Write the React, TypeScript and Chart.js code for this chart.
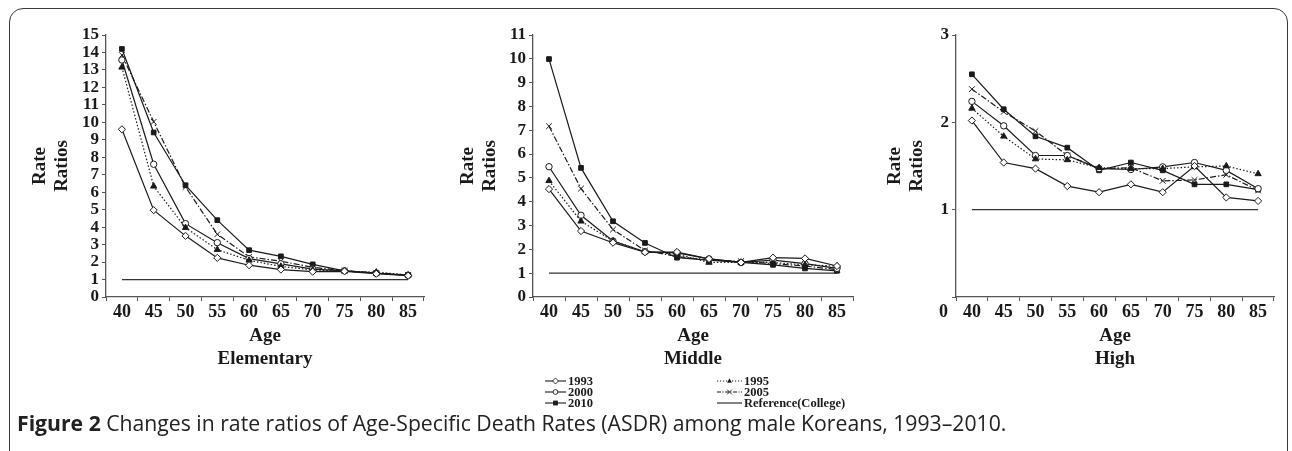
import React, { useEffect, useRef } from 'react';
import { Chart, registerables } from 'chart.js';

Chart.register(...registerables);

// ---------- data ----------
const AGES = ['40', '45', '50', '55', '60', '65', '70', '75', '80', '85'];
const SERIES_LABELS = ['1993', '1995', '2000', '2005', '2010'];
const REF_LABEL = 'Reference(College)';
const REF_VALUES = [1, 1, 1, 1, 1, 1, 1, 1, 1, 1];

const ELEM_1993 = [9.6, 4.97, 3.5, 2.24, 1.82, 1.57, 1.45, 1.47, 1.33, 1.22];
const ELEM_1995 = [13.15, 6.34, 3.97, 2.71, 2.1, 1.75, 1.55, 1.48, 1.42, 1.26];
const ELEM_2000 = [13.57, 7.6, 4.2, 3.11, 2.2, 1.9, 1.6, 1.5, 1.36, 1.24];
const ELEM_2005 = [13.85, 10.03, 6.3, 3.59, 2.3, 2.05, 1.7, 1.5, 1.38, 1.26];
const ELEM_2010 = [14.2, 9.42, 6.4, 4.4, 2.68, 2.33, 1.87, 1.5, 1.36, 1.25];

const MID_1993 = [4.53, 2.77, 2.28, 1.88, 1.89, 1.6, 1.45, 1.65, 1.62, 1.3];
const MID_1995 = [4.88, 3.18, 2.35, 1.9, 1.8, 1.45, 1.45, 1.45, 1.35, 1.3];
const MID_2000 = [5.47, 3.43, 2.35, 1.9, 1.85, 1.6, 1.45, 1.55, 1.4, 1.2];
const MID_2005 = [7.17, 4.55, 2.83, 1.95, 1.7, 1.55, 1.5, 1.4, 1.3, 1.15];
const MID_2010 = [9.99, 5.42, 3.18, 2.27, 1.65, 1.55, 1.45, 1.35, 1.2, 1.1];

const HIGH_1993 = [2.02, 1.54, 1.47, 1.27, 1.2, 1.29, 1.2, 1.5, 1.14, 1.1];
const HIGH_1995 = [2.16, 1.84, 1.58, 1.57, 1.48, 1.47, 1.47, 1.49, 1.5, 1.41];
const HIGH_2000 = [2.24, 1.96, 1.62, 1.62, 1.47, 1.46, 1.49, 1.54, 1.45, 1.24];
const HIGH_2005 = [2.38, 2.12, 1.9, 1.62, 1.47, 1.48, 1.33, 1.34, 1.4, 1.22];
const HIGH_2010 = [2.55, 2.15, 1.84, 1.71, 1.45, 1.54, 1.45, 1.29, 1.29, 1.23];

const Y_MAX = [15, 11, 3];
const PANEL_TITLES = ['Elementary', 'Middle', 'High'];
const Y_TITLE = ['Rate', 'Ratios'];
const X_TITLE = 'Age';
const CAPTION_BOLD = 'Figure 2';
const CAPTION_TEXT = ' Changes in rate ratios of Age-Specific Death Rates (ASDR) among male Koreans, 1993\u20132010.';

// ---------- styles ----------
const SERIF = '"Liberation Serif", "Times New Roman", serif';
const INK = '#1a1a1a';
const AXIS = '#555';

const STYLES = [
  { pointStyle: 'rectRot', fill: '#ffffff', dash: [] as number[], radius: 3.6 },
  { pointStyle: 'triangle', fill: INK, dash: [1.5, 2], radius: 3.6 },
  { pointStyle: 'circle', fill: '#ffffff', dash: [] as number[], radius: 3.2 },
  { pointStyle: 'crossRot', fill: INK, dash: [6, 2, 1.5, 2], radius: 4 },
  { pointStyle: 'rect', fill: INK, dash: [] as number[], radius: 3.3 },
];

const PANEL_DATA = [
  [ELEM_1993, ELEM_1995, ELEM_2000, ELEM_2005, ELEM_2010],
  [MID_1993, MID_1995, MID_2000, MID_2005, MID_2010],
  [HIGH_1993, HIGH_1995, HIGH_2000, HIGH_2005, HIGH_2010],
];

// layout of the three canvases (page px)
const CANVAS_TOP = 15;
const CANVAS_H = 370;
const PANEL_BOX = [
  { left: 29, width: 403, yAxisW: 77 },
  { left: 457, width: 404, yAxisW: 76 },
  { left: 884, width: 398, yAxisW: 72 },
];
const X_TICK_SIZE = 18;
const Y_TICK_SIZE = 17;

const zeroLabelPlugin = {
  id: 'zeroLabel',
  afterDraw(chart: any, _args: any, opts: any) {
    if (!opts || !opts.show) return;
    const ys = chart.scales.y;
    const xs = chart.scales.x;
    const ctx = chart.ctx;
    ctx.save();
    ctx.font = `bold ${X_TICK_SIZE}px ${SERIF}`;
    ctx.fillStyle = INK;
    ctx.textAlign = 'right';
    ctx.textBaseline = 'middle';
    ctx.fillText('0', ys.right - 4 - 4, xs.top + 4 + 1 + X_TICK_SIZE * 0.6);
    ctx.restore();
  },
};

function Panel({ idx }: { idx: number }) {
  const ref = useRef<HTMLCanvasElement>(null);
  useEffect(() => {
    const box = PANEL_BOX[idx];
    const datasets: any[] = PANEL_DATA[idx].map((vals, i) => ({
      label: SERIES_LABELS[i],
      data: vals,
      borderColor: INK,
      borderWidth: 1.2,
      borderDash: STYLES[i].dash,
      pointStyle: STYLES[i].pointStyle,
      pointRadius: STYLES[i].radius,
      pointBackgroundColor: STYLES[i].fill,
      pointBorderColor: INK,
      pointBorderWidth: 1,
      tension: 0,
      fill: false,
    }));
    datasets.push({
      label: REF_LABEL,
      data: REF_VALUES,
      borderColor: '#333',
      borderWidth: 1.2,
      pointRadius: 0,
      tension: 0,
      fill: false,
    });
    const chart = new Chart(ref.current as HTMLCanvasElement, {
      type: 'line',
      data: { labels: AGES, datasets },
      plugins: [zeroLabelPlugin as any],
      options: {
        animation: false,
        responsive: false,
        maintainAspectRatio: false,
        layout: { padding: { top: 20, right: 8, left: 0, bottom: 0 } },
        plugins: {
          legend: { display: false },
          tooltip: { enabled: false },
          zeroLabel: { show: idx === 2 },
        } as any,
        scales: {
          x: {
            type: 'category',
            offset: true,
            afterFit: (s: any) => { s.height = 88; },
            grid: { display: true, drawOnChartArea: false, drawTicks: true, tickLength: 4, offset: true, color: AXIS, lineWidth: 1 },
            border: { display: true, color: AXIS, width: 1.3 },
            ticks: { color: INK, font: { family: SERIF, size: X_TICK_SIZE, weight: 'bold', lineHeight: 1.2 }, padding: 1, maxRotation: 0, autoSkip: false },
            title: {
              display: true,
              text: [X_TITLE, PANEL_TITLES[idx]],
              color: INK,
              font: { family: SERIF, size: 19, weight: 'bold', lineHeight: 1.2 },
              padding: { top: 4, bottom: 15 },
            },
          },
          y: {
            min: 0,
            max: Y_MAX[idx],
            afterFit: (s: any) => { s.width = box.yAxisW; },
            grid: { display: true, drawOnChartArea: false, drawTicks: true, tickLength: 4, color: AXIS, lineWidth: 1 },
            border: { display: true, color: AXIS, width: 1.3 },
            ticks: {
              stepSize: 1,
              autoSkip: false,
              color: INK,
              font: { family: SERIF, size: Y_TICK_SIZE, weight: 'bold', lineHeight: 1 },
              padding: 3,
              callback: (v: any) => (idx === 2 && Number(v) === 0 ? '' : String(v)),
            },
            title: {
              display: true,
              text: Y_TITLE,
              color: INK,
              font: { family: SERIF, size: 19, weight: 'bold', lineHeight: 1.16 },
              padding: { top: 0, bottom: 0 },
            },
          },
        },
      } as any,
    });
    return () => chart.destroy();
  }, [idx]);
  const box = PANEL_BOX[idx];
  return (
    <canvas
      ref={ref}
      width={box.width}
      height={CANVAS_H}
      style={{ position: 'absolute', left: box.left, top: CANVAS_TOP, width: box.width, height: CANVAS_H }}
    />
  );
}

function Marker({ kind, cx, cy }: { kind: number; cx: number; cy: number }) {
  const s = 2.4;
  if (kind === 0) return <polygon points={`${cx},${cy - s - 0.6} ${cx + s + 0.6},${cy} ${cx},${cy + s + 0.6} ${cx - s - 0.6},${cy}`} fill="#fff" stroke={INK} strokeWidth={0.9} />;
  if (kind === 1) return <polygon points={`${cx},${cy - s - 0.4} ${cx + s},${cy + s - 0.6} ${cx - s},${cy + s - 0.6}`} fill={INK} />;
  if (kind === 2) return <circle cx={cx} cy={cy} r={s} fill="#fff" stroke={INK} strokeWidth={0.9} />;
  if (kind === 3) return (
    <g stroke={INK} strokeWidth={0.9}>
      <line x1={cx - s} y1={cy - s} x2={cx + s} y2={cy + s} />
      <line x1={cx - s} y1={cy + s} x2={cx + s} y2={cy - s} />
    </g>
  );
  if (kind === 4) return <rect x={cx - s} y={cy - s} width={2 * s} height={2 * s} fill={INK} />;
  return null;
}

function LegendItem({ x, y, w, kind, dash, label }: { x: number; y: number; w: number; kind: number; dash: string; label: string }) {
  return (
    <div style={{ position: 'absolute', left: x, top: y - 6, height: 12, display: 'flex', alignItems: 'center', whiteSpace: 'nowrap' }}>
      <svg width={w} height={12} style={{ display: 'block' }}>
        <line x1={0} y1={6} x2={w} y2={6} stroke={INK} strokeWidth={1.1} strokeDasharray={dash} />
        <Marker kind={kind} cx={w / 2} cy={6} />
      </svg>
      <span style={{ font: `bold 12.5px ${SERIF}`, color: INK, marginLeft: 2, lineHeight: '12px' }}>{label}</span>
    </div>
  );
}

export default function App() {
  const rowY = [381, 392, 402.5];
  return (
    <div style={{ position: 'fixed', left: 0, top: 0, width: 1292, height: 451, background: '#fff', overflow: 'hidden' }}>
      <div style={{ position: 'absolute', left: 9, top: 8, width: 1277, height: 480, border: '1.5px solid #3a3a3a', borderRadius: 14 }} />
      {[0, 1, 2].map((i) => <Panel key={i} idx={i} />)}
      <LegendItem x={545} y={rowY[0]} w={21} kind={0} dash="" label={SERIES_LABELS[0]} />
      <LegendItem x={545} y={rowY[1]} w={21} kind={2} dash="" label={SERIES_LABELS[2]} />
      <LegendItem x={545} y={rowY[2]} w={21} kind={4} dash="" label={SERIES_LABELS[4]} />
      <LegendItem x={717} y={rowY[0]} w={25} kind={1} dash="1.2 1.8" label={SERIES_LABELS[1]} />
      <LegendItem x={717} y={rowY[1]} w={25} kind={3} dash="4 1.5 1 1.5" label={SERIES_LABELS[3]} />
      <LegendItem x={717} y={rowY[2]} w={25} kind={-1} dash="" label={REF_LABEL} />
      <div style={{ position: 'absolute', left: 17, top: 409, font: `21.2px "Open Sans", sans-serif`, color: '#222', whiteSpace: 'nowrap', lineHeight: '28px' }}>
        <b>{CAPTION_BOLD}</b>{CAPTION_TEXT}
      </div>
    </div>
  );
}
